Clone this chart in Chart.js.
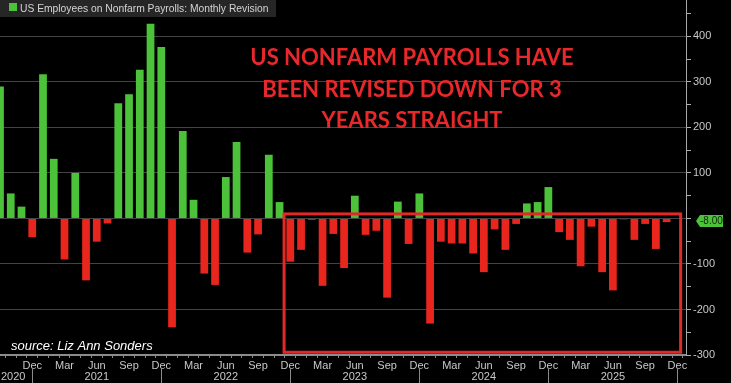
<!DOCTYPE html>
<html>
<head>
<meta charset="utf-8">
<script src="https://cdn.jsdelivr.net/npm/chart.js@4.4.1/dist/chart.umd.min.js"></script>
<style>
    html, body { margin: 0; padding: 0; background: #000; }
    #wrap { width: 731px; height: 383px; position: relative; }
</style>
</head>
<body>
<div id="wrap"><canvas id="grafica"></canvas></div>
<script>
// Meses desde Sep 2020 hasta Dec 2025
const meses = [
    'Sep 2020', 'Oct 2020', 'Nov 2020', 'Dec 2020',
    'Jan 2021', 'Feb 2021', 'Mar 2021', 'Apr 2021', 'May 2021', 'Jun 2021', 'Jul 2021', 'Aug 2021', 'Sep 2021', 'Oct 2021', 'Nov 2021', 'Dec 2021',
    'Jan 2022', 'Feb 2022', 'Mar 2022', 'Apr 2022', 'May 2022', 'Jun 2022', 'Jul 2022', 'Aug 2022', 'Sep 2022', 'Oct 2022', 'Nov 2022', 'Dec 2022',
    'Jan 2023', 'Feb 2023', 'Mar 2023', 'Apr 2023', 'May 2023', 'Jun 2023', 'Jul 2023', 'Aug 2023', 'Sep 2023', 'Oct 2023', 'Nov 2023', 'Dec 2023',
    'Jan 2024', 'Feb 2024', 'Mar 2024', 'Apr 2024', 'May 2024', 'Jun 2024', 'Jul 2024', 'Aug 2024', 'Sep 2024', 'Oct 2024', 'Nov 2024', 'Dec 2024',
    'Jan 2025', 'Feb 2025', 'Mar 2025', 'Apr 2025', 'May 2025', 'Jun 2025', 'Jul 2025', 'Aug 2025', 'Sep 2025', 'Oct 2025', 'Nov 2025', 'Dec 2025',
];

// Revision mensual (miles)
const revisiones = [
    290, 55, 26, -41,
    317, 131, -90, 100, -136, -51, -11, 253, 273, 327, 428, 377,
    -239, 192, 41, -121, -146, 91, 168, -75, -35, 140, 36, -95,
    -69, -3, -148, -34, -109, 50, -36, -27, -174, 37, -56, 55,
    -231, -51, -55, -55, -77, -118, -24, -69, -12, 33, 36, 69,
    -30, -47, -105, -18, -118, -158, -2, -47, -12, -67, -8, null,
];

const mesesEtiqueta = ['Dec', 'Mar', 'Jun', 'Sep'];
const anios = ['2020', '2021', '2022', '2023', '2024', '2025'];
const ticksY = [400, 300, 200, 100, 0, -100, -200, -300];

const titulo = ['US NONFARM PAYROLLS HAVE', 'BEEN REVISED DOWN FOR 3', 'YEARS STRAIGHT'];
const leyenda = 'US Employees on Nonfarm Payrolls: Monthly Revision';
const fuente = 'source: Liz Ann Sonders';

const VERDE = '#4cc13a';
const ROJO = '#e8261e';
const FUENTE_EJE = '11px "Liberation Sans", Arial, sans-serif';

const puntos = [];
revisiones.forEach(function (v, i) {
    if (v !== null) {
        puntos.push({ x: i, y: v });
    }
});

// Quita el relleno que Chart.js deja para las etiquetas de los extremos
function sinRelleno(scale) {
    scale.paddingTop = 0;
    scale.paddingBottom = 0;
    scale.paddingLeft = 0;
    scale.paddingRight = 0;
}

// Dibuja el recuadro, el titulo, la leyenda, los anios y la etiqueta del ultimo valor
const extras = {
    id: 'extras',
    afterDatasetsDraw(chart) {
        const ctx = chart.ctx;
        const x = chart.scales.x;
        const y = chart.scales.y;

        ctx.save();
        ctx.strokeStyle = '#e32828';
        ctx.lineWidth = 3;
        const x0 = x.getPixelForValue(26.42);
        const x1 = x.getPixelForValue(63.3);
        const y0 = y.getPixelForValue(10);
        const y1 = y.getPixelForValue(-294);
        ctx.strokeRect(x0, y0, x1 - x0, y1 - y0);

        ctx.fillStyle = '#e8282b';
        ctx.font = 'bold 22px Lato, sans-serif';
        ctx.textAlign = 'center';
        ctx.textBaseline = 'middle';
        titulo.forEach(function (linea, i) {
            ctx.fillText(linea, 412, 58 + i * 31.5);
        });
        ctx.restore();
    },
    afterDraw(chart) {
        const ctx = chart.ctx;
        const x = chart.scales.x;
        const y = chart.scales.y;
        const area = chart.chartArea;

        ctx.save();
        // leyenda
        ctx.fillStyle = '#262626';
        ctx.fillRect(0, 0, 276, 17);
        ctx.fillStyle = VERDE;
        ctx.fillRect(9, 3, 8, 8);
        ctx.fillStyle = '#d4d4d4';
        ctx.font = '10.3px "Liberation Sans", Arial, sans-serif';
        ctx.textAlign = 'left';
        ctx.textBaseline = 'alphabetic';
        ctx.fillText(leyenda, 20, 11.5);

        // fuente
        ctx.fillStyle = '#ffffff';
        ctx.font = 'italic 13px "Liberation Sans", Arial, sans-serif';
        ctx.fillText(fuente, 11, 350);

        // anios y separadores
        ctx.fillStyle = '#c8c8c8';
        ctx.font = FUENTE_EJE;
        ctx.textBaseline = 'middle';
        anios.forEach(function (a, i) {
            if (i === 0) {
                ctx.textAlign = 'left';
                ctx.fillText(a, 1, 377);
            } else {
                ctx.textAlign = 'center';
                ctx.fillText(a, x.getPixelForValue(meses.indexOf('Jun ' + a)), 377);
            }
            const px = Math.round(x.getPixelForValue(meses.indexOf('Dec ' + a))) + 0.5;
            ctx.strokeStyle = '#8a8a8a';
            ctx.lineWidth = 1;
            ctx.beginPath();
            ctx.moveTo(px, 368);
            ctx.lineTo(px, 383);
            ctx.stroke();
        });

        // etiqueta del ultimo valor (tapa la etiqueta del 0)
        let ultimo = null;
        revisiones.forEach(function (v) {
            if (v !== null) {
                ultimo = v;
            }
        });
        const ty = y.getPixelForValue(ultimo) - 1;
        const tx = area.right + 10;
        ctx.fillStyle = VERDE;
        ctx.beginPath();
        ctx.moveTo(tx, ty);
        ctx.lineTo(tx + 4, ty - 6);
        ctx.lineTo(tx + 27, ty - 6);
        ctx.lineTo(tx + 27, ty + 6);
        ctx.lineTo(tx + 4, ty + 6);
        ctx.closePath();
        ctx.fill();
        ctx.fillStyle = '#102a0a';
        ctx.font = '10px "Liberation Sans", Arial, sans-serif';
        ctx.textAlign = 'left';
        ctx.textBaseline = 'middle';
        ctx.fillText(ultimo.toFixed(2), tx + 4, ty + 0.5);
        ctx.restore();
    },
};

new Chart(document.getElementById('grafica'), {
    type: 'bar',
    data: {
        datasets: [
            {
                data: puntos,
                backgroundColor: function (c) {
                    return c.raw && c.raw.y >= 0 ? VERDE : ROJO;
                },
                borderWidth: 0,
                barPercentage: 1,
                categoryPercentage: 0.72,
            },
        ],
    },
    options: {
        responsive: true,
        maintainAspectRatio: false,
        animation: false,
        layout: { padding: 0 },
        plugins: {
            legend: { display: false },
            tooltip: { enabled: false },
        },
        scales: {
            x: {
                type: 'linear',
                min: 0,
                max: 63.8,
                offset: false,
                grid: {
                    drawOnChartArea: false,
                    color: '#8a8a8a',
                    tickLength: 3,
                },
                border: { color: '#8c8c8c', width: 2 },
                afterBuildTicks: function (scale) {
                    scale.ticks = meses.map(function (m, i) {
                        return { value: i };
                    });
                },
                afterFit: function (scale) {
                    scale.height = 28;
                    sinRelleno(scale);
                },
                ticks: {
                    autoSkip: false,
                    maxRotation: 0,
                    color: '#c8c8c8',
                    font: { family: '"Liberation Sans", Arial, sans-serif', size: 11 },
                    padding: 1,
                    callback: function (v) {
                        const m = meses[v];
                        if (!m || v === 0) {
                            return '';
                        }
                        const corto = m.slice(0, 3);
                        return mesesEtiqueta.includes(corto) ? corto : '';
                    },
                },
            },
            y: {
                position: 'right',
                min: -300,
                max: 480,
                grid: {
                    color: function (c) {
                        return c.tick && ticksY.includes(c.tick.value) ? '#434343' : 'rgba(0,0,0,0)';
                    },
                    tickColor: '#b0b0b0',
                    tickLength: 5,
                },
                border: { color: '#a8a8a8', width: 1 },
                afterFit: function (scale) {
                    scale.width = 45;
                    sinRelleno(scale);
                },
                ticks: {
                    stepSize: 50,
                    includeBounds: false,
                    color: '#c8c8c8',
                    font: { family: '"Liberation Sans", Arial, sans-serif', size: 11 },
                    padding: 2,
                    callback: function (v) {
                        return ticksY.includes(v) && v !== 0 ? v : '';
                    },
                },
            },
        },
    },
    plugins: [extras],
});
</script>
</body>
</html>
